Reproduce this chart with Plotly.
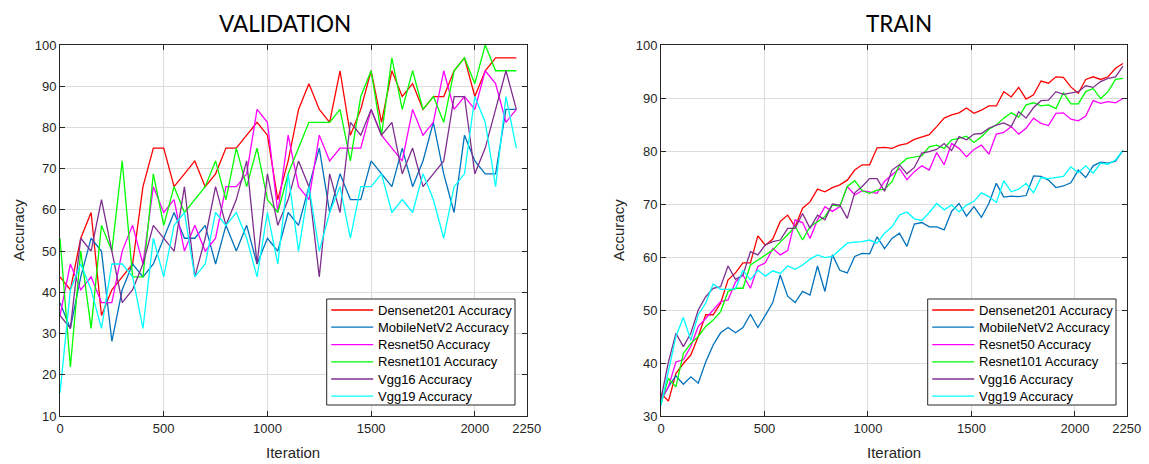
import plotly.graph_objects as go

# ---------------- data ----------------
models = ["Densenet201", "MobileNetV2", "Resnet50", "Resnet101", "Vgg16", "Vgg19"]
colors = ["#FF0000", "#0072BD", "#FF00FF", "#00FF00", "#7E2F8E", "#00FFFF"]

val_iter = list(range(0, 2201, 50))      # 45 validation checkpoints
train_iter = list(range(0, 2233, 36))    # 63 training checkpoints

val_densenet = [43.75, 40.625, 53.125, 59.375, 34.375, 40.625, 43.75, 46.875, 65.625, 75, 75,
                65.625, 68.75, 71.875, 65.625, 68.75, 75, 75, 78.125, 81.25, 78.125, 62.5,
                71.875, 84.375, 90.625, 84.375, 81.25, 93.75, 78.125, 84.375, 93.75, 81.25,
                93.75, 87.5, 90.625, 84.375, 87.5, 87.5, 93.75, 96.875, 87.5, 93.75, 96.875,
                96.875, 96.875]
val_mobilenet = [37.5, 31.25, 43.75, 53.125, 50, 28.125, 40.625, 46.875, 43.75, 46.875, 53.125,
                 59.375, 53.125, 53.125, 56.25, 46.875, 56.25, 50, 56.25, 46.875, 53.125, 50,
                 59.375, 56.25, 65.625, 75, 59.375, 68.75, 62.5, 62.5, 71.875, 68.75, 65.625,
                 75, 65.625, 71.875, 81.25, 68.75, 59.375, 78.125, 71.875, 68.75, 68.75,
                 84.375, 84.375]
val_resnet50 = [34.375, 46.875, 40.625, 43.75, 37.5, 37.5, 50, 56.25, 46.875, 65.625, 59.375,
                62.5, 50, 56.25, 50, 53.125, 65.625, 65.625, 68.75, 84.375, 81.25, 59.375,
                78.125, 65.625, 62.5, 78.125, 71.875, 75, 75, 75, 84.375, 78.125, 75, 71.875,
                84.375, 78.125, 81.25, 93.75, 84.375, 87.5, 84.375, 93.75, 90.625, 81.25,
                84.375]
val_resnet101 = [53.125, 21.875, 50, 31.25, 56.25, 50, 71.875, 43.75, 43.75, 68.75, 56.25,
                 65.625, 59.375, 62.5, 65.625, 71.875, 62.5, 75, 65.625, 75, 62.5, 59.375,
                 68.75, 75, 81.25, 81.25, 81.25, 84.375, 71.875, 87.5, 93.75, 78.125, 96.875,
                 84.375, 93.75, 84.375, 87.5, 81.25, 93.75, 96.875, 90.625, 100, 93.75, 93.75,
                 93.75]
val_vgg16 = [34.375, 31.25, 53.125, 50, 62.5, 50, 37.5, 40.625, 46.875, 56.25, 53.125, 50,
             65.625, 43.75, 53.125, 65.625, 56.25, 62.5, 71.875, 46.875, 68.75, 56.25, 62.5,
             71.875, 65.625, 43.75, 68.75, 59.375, 81.25, 78.125, 84.375, 78.125, 81.25,
             68.75, 75, 65.625, 68.75, 71.875, 87.5, 87.5, 68.75, 75, 84.375, 93.75, 84.375]
val_vgg19 = [15.625, 40.625, 46.875, 40.625, 31.25, 46.875, 46.875, 43.75, 31.25, 53.125,
             43.75, 56.25, 59.375, 43.75, 46.875, 59.375, 56.25, 59.375, 53.125, 43.75,
             59.375, 46.875, 68.75, 50, 65.625, 50, 59.375, 65.625, 53.125, 65.625, 65.625,
             68.75, 59.375, 62.5, 59.375, 68.75, 62.5, 53.125, 65.625, 68.75, 87.5, 81.25,
             65.625, 87.5, 75]

train_densenet = [34.3, 32.8, 38.0, 39.9, 41.5, 45.0, 49.1, 49.1, 51.3, 55.7, 57.0, 58.9, 58.9,
                  64.0, 62.2, 63.4, 66.7, 67.9, 65.7, 69.2, 70.4, 72.8, 72.3, 73.1, 73.6, 74.5,
                  76.4, 77.4, 77.4, 80.6, 80.7, 80.5, 81.1, 81.4, 82.2, 82.6, 83.1, 84.6, 86.2,
                  86.8, 87.2, 88.1, 87.1, 87.7, 88.5, 88.5, 91.2, 90.2, 92.0, 89.8, 90.6, 93.2,
                  92.8, 94.0, 93.9, 92.1, 90.9, 93.5, 94.0, 93.5, 94.0, 95.6, 96.5]
train_mobilenet = [33.0, 35.5, 37.6, 36.0, 37.4, 36.2, 40.2, 43.4, 45.7, 46.7, 45.7, 46.7, 49.2,
                   46.7, 49.0, 51.4, 56.6, 52.6, 51.4, 53.5, 52.8, 58.3, 53.5, 60.4, 57.5, 57.0,
                   60.1, 60.7, 60.6, 63.8, 61.6, 63.5, 64.5, 62.0, 66.2, 66.5, 65.7, 65.7, 65.1,
                   68.6, 70.1, 67.7, 69.5, 67.5, 70.1, 73.9, 71.3, 71.5, 71.4, 71.6, 75.3, 75.2,
                   74.5, 73.1, 73.4, 74.0, 76.4, 75.0, 77.2, 77.9, 77.7, 78.1, 80.1]
train_resnet50 = [33.0, 35.5, 40.2, 40.6, 43.1, 46.9, 48.4, 50.0, 51.6, 51.9, 55.3, 56.6, 54.1,
                  58.2, 58.9, 61.6, 60.4, 61.2, 67.0, 66.5, 63.5, 67.0, 69.5, 68.6, 69.5, 73.3,
                  71.7, 72.5, 72.3, 72.0, 74.3, 75.5, 76.7, 74.6, 76.1, 77.2, 76.4, 79.7, 77.4,
                  81.4, 80.5, 78.9, 80.3, 81.1, 79.4, 83.2, 83.5, 84.6, 83.2, 84.3, 86.2, 85.2,
                  84.8, 87.1, 87.2, 86.0, 85.7, 86.6, 89.5, 89.0, 89.3, 89.1, 89.9]
train_resnet101 = [32.4, 37.1, 35.5, 41.8, 43.7, 45.0, 46.9, 48.1, 49.7, 53.5, 54.1, 54.1, 58.5,
                   59.4, 60.4, 61.3, 62.8, 64.2, 65.8, 63.2, 65.7, 66.7, 67.6, 69.8, 69.6, 73.3,
                   74.4, 72.5, 72.0, 72.6, 72.8, 74.2, 77.4, 78.6, 78.9, 79.1, 80.8, 81.1, 80.5,
                   82.1, 82.4, 82.8, 81.6, 82.7, 84.1, 84.9, 86.2, 87.2, 86.4, 88.7, 89.1, 88.5,
                   88.7, 88.0, 91.0, 88.9, 88.9, 91.2, 91.8, 89.9, 91.2, 93.5, 93.7]
train_vgg16 = [33.3, 40.2, 45.6, 43.1, 45.6, 50.0, 52.5, 54.1, 54.4, 58.3, 55.8, 56.6, 61.0,
               60.4, 62.3, 62.9, 63.2, 65.4, 65.4, 68.2, 65.4, 67.9, 67.0, 70.0, 69.8, 67.3,
               72.1, 73.3, 74.8, 74.8, 72.4, 76.4, 77.4, 75.7, 76.9, 79.6, 79.9, 80.3, 81.4,
               80.1, 82.7, 82.1, 83.2, 83.3, 84.3, 84.9, 85.3, 84.6, 87.4, 86.2, 88.2, 89.5,
               89.6, 91.2, 90.7, 91.0, 91.2, 92.3, 92.0, 93.1, 93.7, 94.0, 96.0]
train_vgg19 = [32.0, 38.5, 45.0, 48.6, 44.3, 49.1, 51.3, 54.9, 53.9, 53.9, 54.0, 57.5, 55.7,
               57.5, 56.4, 57.4, 56.9, 58.3, 57.7, 58.5, 59.6, 60.4, 59.9, 60.1, 61.3, 62.6,
               62.8, 62.9, 63.2, 62.6, 64.5, 65.7, 67.9, 68.5, 67.2, 66.9, 68.4, 70.1, 68.9,
               69.8, 68.5, 69.8, 70.5, 72.1, 71.4, 70.3, 74.4, 72.3, 72.8, 73.9, 72.1, 75.0,
               74.8, 75.0, 75.2, 77.0, 75.9, 77.2, 75.8, 77.7, 77.5, 78.3, 80.1]

val_series = [val_densenet, val_mobilenet, val_resnet50, val_resnet101, val_vgg16, val_vgg19]
train_series = [train_densenet, train_mobilenet, train_resnet50, train_resnet101, train_vgg16, train_vgg19]

x_ticks = [0, 500, 1000, 1500, 2000, 2250]
val_y_ticks = list(range(10, 101, 10))
train_y_ticks = list(range(30, 101, 10))

# ---------------- figure ----------------
W, H = 1149, 464
fig = go.Figure()

for name, col, ys in zip(models, colors, val_series):
    fig.add_trace(go.Scatter(x=val_iter, y=ys, mode="lines", name=f"{name} Accuracy",
                             line=dict(color=col, width=1.3), xaxis="x", yaxis="y",
                             showlegend=False))
for name, col, ys in zip(models, colors, train_series):
    fig.add_trace(go.Scatter(x=train_iter, y=ys, mode="lines", name=f"{name} Accuracy",
                             line=dict(color=col, width=1.3), xaxis="x2", yaxis="y2",
                             showlegend=False))

ink = "#262626"
grid = "#dcdcdc"
tick_font = dict(family="Liberation Sans, Arial, sans-serif", size=13, color=ink)

def xax(domain, anchor):
    return dict(domain=domain, anchor=anchor, range=[0, 2250], tickvals=x_ticks,
                ticktext=[str(v) for v in x_ticks], showgrid=True, gridcolor=grid,
                gridwidth=1, zeroline=False, showline=True, linecolor=ink, linewidth=1,
                mirror="ticks", ticks="inside", ticklen=5, tickcolor=ink,
                tickfont=tick_font, automargin=False)

def yax(domain, anchor, rng, tv):
    return dict(domain=domain, anchor=anchor, range=rng, tickvals=tv,
                showgrid=True, gridcolor=grid, gridwidth=1, zeroline=False,
                showline=True, linecolor=ink, linewidth=1, mirror="ticks",
                ticks="inside", ticklen=5, tickcolor=ink, tickfont=tick_font,
                automargin=False)

left_x = [60 / W, 526.7 / W]
right_x = [661 / W, 1126.7 / W]
ydom = [1 - 416 / H, 1 - 45 / H]

fig.update_layout(
    width=W, height=H,
    margin=dict(l=0, r=0, t=0, b=0),
    paper_bgcolor="white", plot_bgcolor="white",
    xaxis=xax(left_x, "y"),
    yaxis=yax(ydom, "x", [10, 100], val_y_ticks),
    xaxis2=xax(right_x, "y2"),
    yaxis2=yax(ydom, "x2", [30, 100], train_y_ticks),
    showlegend=False,
)

title_font = dict(family="Lato, Open Sans, sans-serif", size=22.5, color="#000000")
label_font = dict(family="Liberation Sans, Arial, sans-serif", size=15, color=ink)
legend_font = dict(family="Liberation Sans, Arial, sans-serif", size=13, color="#000000")

def px(x):
    return x / W

def py(y):
    return 1 - y / H

annotations = [
    dict(text="VALIDATION", x=px(285), y=py(23.5), font=title_font, xanchor="center"),
    dict(text="TRAIN", x=px(898.8), y=py(23.5), font=title_font, xanchor="center"),
    dict(text="Iteration", x=px(293.3), y=py(452), font=label_font, xanchor="center"),
    dict(text="Iteration", x=px(893.8), y=py(452), font=label_font, xanchor="center"),
    dict(text="Accuracy", x=px(18), y=py(230), font=label_font, textangle=-90, xanchor="center"),
    dict(text="Accuracy", x=px(618), y=py(230), font=label_font, textangle=-90, xanchor="center"),
]

shapes = []
# legend boxes (left: validation, right: train)
legend_boxes = [(326.7, 515.0), (927.7, 1116.0)]
row_y = [310.0, 327.2, 344.6, 361.8, 379.0, 396.2]
for (bx0, bx1) in legend_boxes:
    shapes.append(dict(type="rect", xref="paper", yref="paper",
                       x0=px(bx0), x1=px(bx1), y0=py(405), y1=py(299),
                       fillcolor="white", line=dict(color=ink, width=1), layer="above"))
    for name, col, ry in zip(models, colors, row_y):
        shapes.append(dict(type="line", xref="paper", yref="paper",
                           x0=px(bx0 + 4.5), x1=px(bx0 + 46.5), y0=py(ry), y1=py(ry),
                           line=dict(color=col, width=1.3), layer="above"))
        annotations.append(dict(text=f"{name} Accuracy", x=px(bx0 + 49.5), y=py(ry),
                                font=legend_font, xanchor="left"))

for a in annotations:
    a.update(xref="paper", yref="paper", showarrow=False, yanchor="middle")
fig.update_layout(annotations=annotations, shapes=shapes)

fig.write_html("out.html")
